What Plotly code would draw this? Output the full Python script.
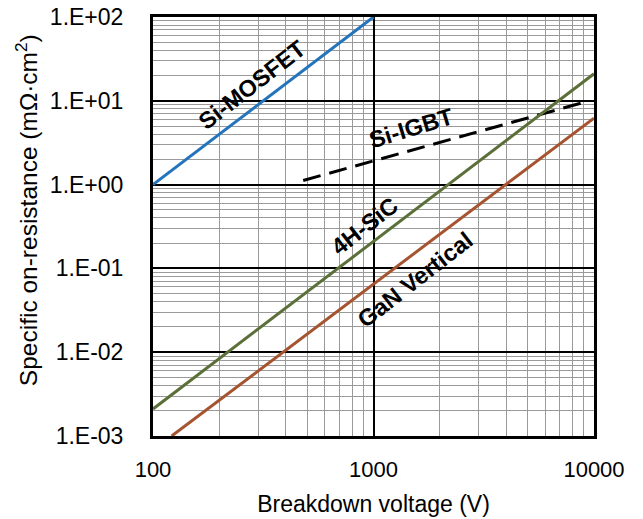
import plotly.graph_objects as go

# ---- data ----
mosfet_v = [100, 1000]
mosfet_r = [1.0, 100.0]

sic_v = [100, 10000]
sic_r = [2.1e-3, 21.0]

gan_v = [121.5, 10000]
gan_r = [1.0e-3, 6.2]

igbt_v = [480, 9000]
igbt_r = [1.12, 9.6]

y_tickvals = [1e-3, 1e-2, 1e-1, 1e0, 1e1, 1e2]
y_ticktext = ["1.E-03", "1.E-02", "1.E-01", "1.E+00", "1.E+01", "1.E+02"]
x_tickvals = [100, 1000, 10000]
x_ticktext = ["100", "1000", "10000"]

minor_x = [m * d for d in (100, 1000) for m in range(2, 10)]
minor_y = [m * d for d in (1e-3, 1e-2, 1e-1, 1, 10) for m in range(2, 10)]

FONT = "Liberation Sans, Arial, sans-serif"

fig = go.Figure()
fig.add_trace(go.Scatter(x=mosfet_v, y=mosfet_r, mode="lines",
                         line=dict(color="#2474bc", width=3), name="Si-MOSFET"))
fig.add_trace(go.Scatter(x=igbt_v, y=igbt_r, mode="lines",
                         line=dict(color="black", width=3, dash="18px,9px"), name="Si-IGBT"))
fig.add_trace(go.Scatter(x=sic_v, y=sic_r, mode="lines",
                         line=dict(color="#5b7039", width=3), name="4H-SiC"))
fig.add_trace(go.Scatter(x=gan_v, y=gan_r, mode="lines",
                         line=dict(color="#a5542f", width=3), name="GaN Vertical"))

labels = [
    ("Si-MOSFET", 2.449, 1.189, -38),
    ("Si-IGBT", 3.174, 0.675, -17),
    ("4H-SiC", 2.961, -0.494, -38),
    ("GaN Vertical", 3.188, -1.138, -38),
]
for txt, lx, ly, ang in labels:
    fig.add_annotation(x=lx, y=ly, xref="x", yref="y", text="<b>%s</b>" % txt,
                       showarrow=False, textangle=ang,
                       font=dict(family=FONT, size=23.5, color="black"))

# y-axis title as a rotated annotation (placed like the reference)
fig.add_annotation(x=-0.288, y=0.539, xref="paper", yref="paper",
                   text="Specific on-resistance (mΩ·cm<sup>2</sup>)",
                   showarrow=False, textangle=-90, xanchor="center", yanchor="middle",
                   font=dict(family=FONT, size=24.5, color="black"))

fig.update_layout(
    width=643, height=519,
    margin=dict(l=153, r=49, t=17, b=83, autoexpand=False),
    paper_bgcolor="white", plot_bgcolor="white",
    showlegend=False,
    font=dict(family=FONT, size=22, color="black"),
)
fig.update_xaxes(
    type="log", range=[2, 4], automargin=False,
    tickvals=x_tickvals, ticktext=x_ticktext,
    showgrid=True, gridcolor="black", gridwidth=1.5,
    minor=dict(tickvals=minor_x, showgrid=True, gridcolor="#9a9a9a", gridwidth=1, ticks=""),
    showline=True, linecolor="black", linewidth=3, mirror=True,
    ticks="", ticklabelstandoff=12,
    tickfont=dict(family=FONT, size=22),
    title=dict(text="Breakdown voltage (V)", font=dict(family=FONT, size=23), standoff=15),
    zeroline=False,
)
fig.update_yaxes(
    type="log", range=[-3, 2], automargin=False,
    tickvals=y_tickvals, ticktext=y_ticktext,
    showgrid=True, gridcolor="black", gridwidth=1.5,
    minor=dict(tickvals=minor_y, showgrid=True, gridcolor="#9a9a9a", gridwidth=1, ticks=""),
    showline=True, linecolor="black", linewidth=3, mirror=True,
    ticks="", ticklabelstandoff=22,
    tickfont=dict(family=FONT, size=23),
    zeroline=False,
)

fig.write_html("out.html", config={"displayModeBar": False},
               post_script="document.body.style.margin='0px';")
